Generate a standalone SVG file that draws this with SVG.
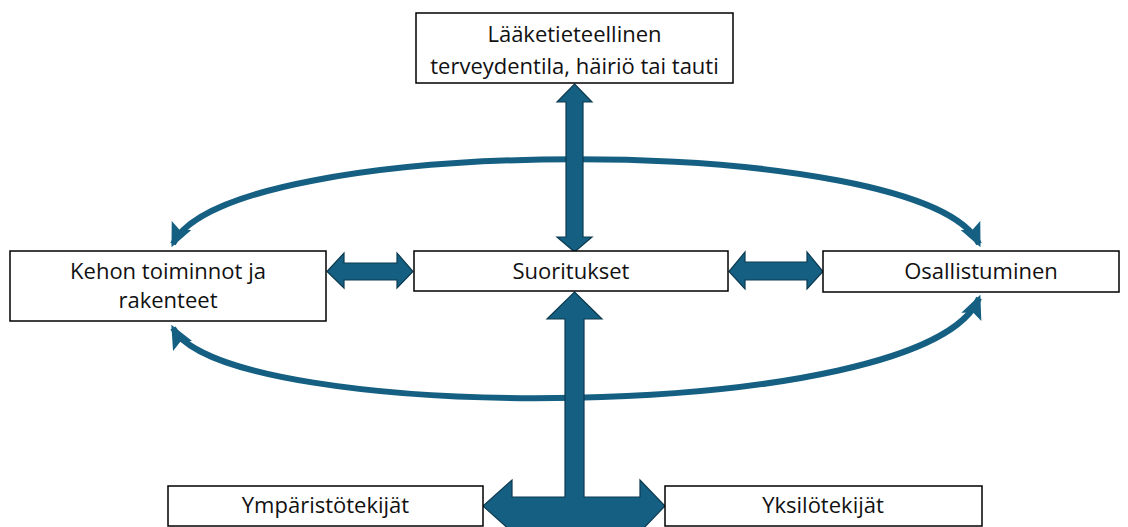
<svg xmlns="http://www.w3.org/2000/svg" width="1128" height="527" viewBox="0 0 1128 527">
  <style>
    .box { fill: #ffffff; stroke: #000000; stroke-width: 1.5; }
    .lbl { font-family: "Open Sans", "Liberation Sans", sans-serif; font-size: 22px; fill: #111111; text-anchor: middle; }
    .arc { fill: none; stroke: #156082; stroke-width: 6; }
    .block { fill: #156082; stroke: #0c3a50; stroke-width: 1.2; stroke-linejoin: miter; }
  </style>
  <defs>
    <marker id="head" viewBox="0 0 20 20" refX="17" refY="10" markerWidth="24" markerHeight="24" markerUnits="userSpaceOnUse" orient="auto-start-reverse">
      <path d="M0,1 L20,10 L0,19 L4,10 Z" fill="#156082"/>
    </marker>
  </defs>
  <rect width="1128" height="527" fill="#ffffff"/>

  <g id="connectors">
    <path class="arc" d="M173,244 C225,131 927,131 979,244" marker-start="url(#head)" marker-end="url(#head)"/>
    <path class="arc" d="M173,328 C225,426 927,426 979,298" marker-start="url(#head)" marker-end="url(#head)"/>
    <polygon class="block" points="574.5,84 592,102 583,102 583,237 592,237 574.5,252 557,237 566,237 566,102 557,102"/>
    <polygon class="block" points="327,271.5 344,253 344,263 397,263 397,253 413,271.5 397,288 397,280 344,280 344,288"/>
    <polygon class="block" points="729,271.5 745,252 745,262 807,262 807,252 823,271.5 807,289 807,280 745,280 745,289"/>
    <polygon class="block" points="574.5,292 602,319 584,319 584,497 640,497 640,480 665,506 640,532 640,540 512,540 512,532 483,506 512,480 512,497 565,497 565,319 547,319"/>
  </g>

  <g id="node-laaketieteellinen">
    <rect class="box" x="416" y="13" width="317" height="70"/>
    <text class="lbl" x="574.5" y="42">Lääketieteellinen</text>
    <text class="lbl" x="574.5" y="74">terveydentila, häiriö tai tauti</text>
  </g>
  <g id="node-kehon">
    <rect class="box" x="10" y="251" width="316" height="70"/>
    <text class="lbl" x="168" y="279">Kehon toiminnot ja</text>
    <text class="lbl" x="168" y="308">rakenteet</text>
  </g>
  <g id="node-suoritukset">
    <rect class="box" x="414" y="251" width="314" height="40"/>
    <text class="lbl" x="571" y="279">Suoritukset</text>
  </g>
  <g id="node-osallistuminen">
    <rect class="box" x="823" y="251" width="296" height="41"/>
    <text class="lbl" x="981" y="279">Osallistuminen</text>
  </g>
  <g id="node-ymparistotekijat">
    <rect class="box" x="168" y="486" width="315" height="40"/>
    <text class="lbl" x="325.5" y="513">Ympäristötekijät</text>
  </g>
  <g id="node-yksilotekijat">
    <rect class="box" x="665" y="486" width="317" height="40"/>
    <text class="lbl" x="823" y="513">Yksilötekijät</text>
  </g>
</svg>
